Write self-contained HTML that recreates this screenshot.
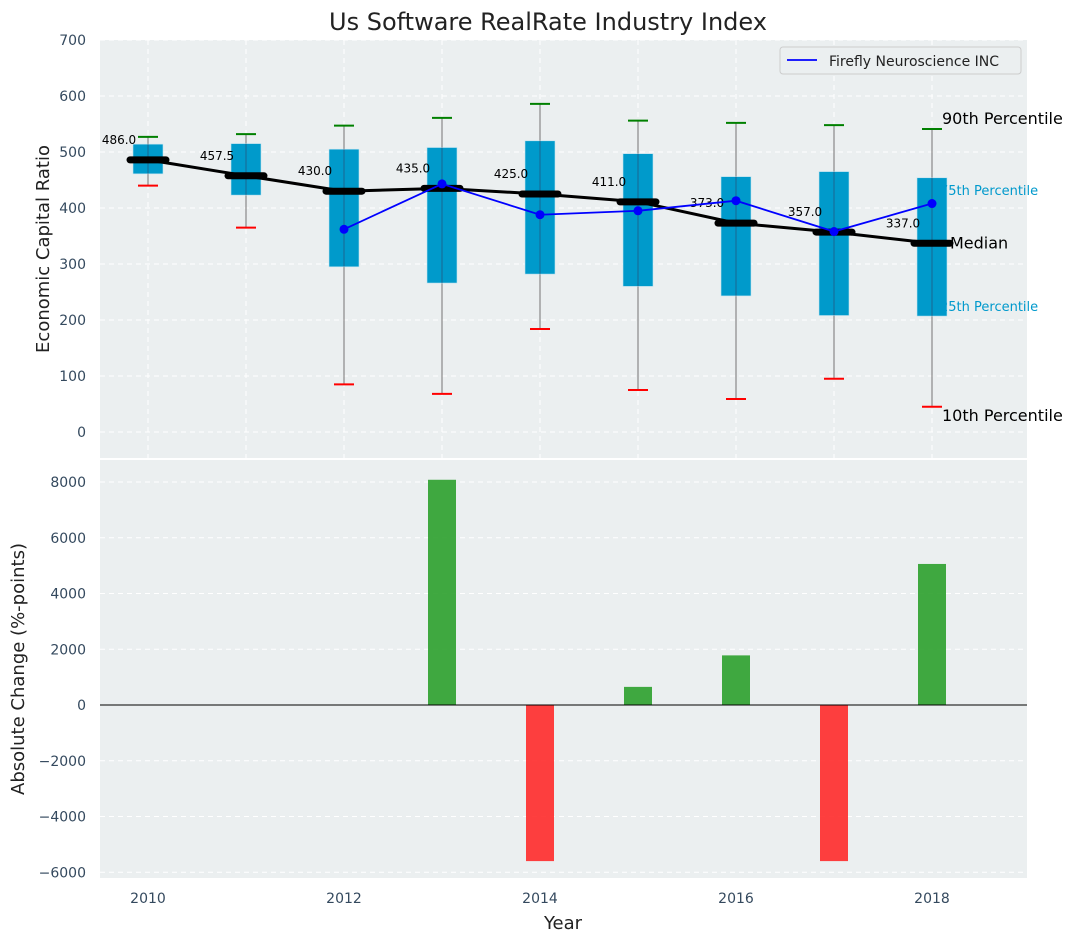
<!DOCTYPE html>
<html><head><meta charset="utf-8"><style>
html,body{margin:0;padding:0;background:#fff;}
svg{display:block;font-family:"DejaVu Sans","Liberation Sans",sans-serif;}
</style></head><body>
<svg id="chart" width="1077" height="942" viewBox="0 0 1077 942">
<text x="548" y="30" text-anchor="middle" font-size="24" fill="#222">Us Software RealRate Industry Index</text>
<g id="top"></g>
<g id="bot"></g>
</svg>
<script>
const years = [2010,2011,2012,2013,2014,2015,2016,2017,2018];
const p10 = [440,365,85,68,184,75,59,95,45];
const p25 = [461,423,295,266,282,260,243,208,207];
const med = [486,457.5,430,435,425,411,373,357,337];
const p75 = [514,515,505,508,520,497,456,465,454];
const p90 = [527,532,547,561,586,556,552,548,541];
const compYears = [2012,2013,2014,2015,2016,2017,2018];
const compVals = [362,443,388,395,413,358,408];
const changeYears = [2013,2014,2015,2016,2017,2018];
const changeVals = [8080,-5600,650,1780,-5600,5060];
const topTicks = [0,100,200,300,400,500,600,700];
const botTicks = [-6000,-4000,-2000,0,2000,4000,6000,8000];
const xTicks = [2010,2012,2014,2016,2018];

const NS='http://www.w3.org/2000/svg';
const L=100,R=1027;
const x=v=>148+(v-2010)*98;
const yT=v=>432-v*0.56;
const yB=v=>705-v*0.027875;
function mk(p,t,a){const e=document.createElementNS(NS,t);for(const k in a)e.setAttribute(k,a[k]);p.appendChild(e);return e;}
const topG=document.getElementById('top'), botG=document.getElementById('bot');
const svgEl=document.getElementById('chart');

let bg=mk(topG,'rect',{x:L,y:40,width:R-L,height:418,fill:'#ebeff0'});


let bg2=mk(botG,'rect',{x:L,y:460,width:R-L,height:418,fill:'#ebeff0'});



for(let yr=2010;yr<=2018;yr++){
  [[40,458],[460,878]].forEach(([a,b])=>{
    const g=mk(topG,'line',{x1:x(yr),x2:x(yr),y1:a,y2:b,stroke:'#fff','stroke-dasharray':'5,4','stroke-width':1});
    
    
  });
}
topTicks.forEach(t=>{
  const g=mk(topG,'line',{x1:L,x2:R,y1:yT(t),y2:yT(t),stroke:'#fff','stroke-dasharray':'5,4'});
  
  
  const tx=mk(topG,'text',{x:86,y:yT(t)+5,'text-anchor':'end','font-size':14,fill:'#34495e'});
  tx.textContent=t;
  
  
});
botTicks.forEach(t=>{
  const g=mk(botG,'line',{x1:L,x2:R,y1:yB(t),y2:yB(t),stroke:'#fff','stroke-dasharray':'5,4'});
  
  
  const tx=mk(botG,'text',{x:86,y:yB(t)+5,'text-anchor':'end','font-size':14,fill:'#34495e'});
  tx.textContent=(t<0?'\u2212'+(-t):t);
  
  
});
xTicks.forEach(t=>{
  const tx=mk(botG,'text',{x:x(t),y:903,'text-anchor':'middle','font-size':14,fill:'#34495e'});
  tx.textContent=t;
  
  
});

years.forEach((yr,i)=>{
  const cx=x(yr);
  const w=mk(topG,'line',{x1:cx,x2:cx,y1:yT(p10[i]),y2:yT(p90[i]),stroke:'#888','stroke-width':1.2});
  
  
  const b=mk(topG,'rect',{x:cx-15,y:yT(p75[i]),width:30,height:yT(p25[i])-yT(p75[i]),fill:'#009acb',stroke:'#bfe3f0','stroke-width':0.6});
  
  
  const w2=mk(topG,'line',{x1:cx,x2:cx,y1:yT(p75[i]),y2:yT(p25[i]),stroke:'#335','stroke-opacity':0.5,'stroke-width':1});
  
  
  const c1=mk(topG,'line',{x1:cx-10,x2:cx+10,y1:yT(p90[i]),y2:yT(p90[i]),stroke:'green','stroke-width':2});
  
  
  const c2=mk(topG,'line',{x1:cx-10,x2:cx+10,y1:yT(p10[i]),y2:yT(p10[i]),stroke:'red','stroke-width':2});
  
  
});
const ml=mk(topG,'polyline',{points:years.map((yr,i)=>x(yr)+','+yT(med[i])).join(' '),fill:'none',stroke:'#000','stroke-width':3});


years.forEach((yr,i)=>{
  const m=mk(topG,'line',{x1:x(yr)-18,x2:x(yr)+18,y1:yT(med[i]),y2:yT(med[i]),stroke:'#000','stroke-width':7,'stroke-linecap':'round'});
  
  
  const t=mk(topG,'text',{x:x(yr)-29,y:yT(med[i])-16,'text-anchor':'middle','font-size':12,fill:'#000'});
  t.textContent=med[i].toFixed(1);
  
  
});
const cl=mk(topG,'polyline',{points:compYears.map((yr,i)=>x(yr)+','+yT(compVals[i])).join(' '),fill:'none',stroke:'blue','stroke-width':1.8});


compYears.forEach((yr,i)=>{
  const c=mk(topG,'circle',{cx:x(yr),cy:yT(compVals[i]),r:4.5,fill:'blue'});
  
  
});
const li=years.length-1, lx=x(years[li]);
[[p90[li],'90th Percentile',16,'#000',10,-5],[p75[li],'75th Percentile',13,'#0099cc',8,17],[med[li],'Median',16,'#000',18,5],[p25[li],'25th Percentile',13,'#0099cc',8,-5],[p10[li],'10th Percentile',16,'#000',10,14]].forEach(a=>{
  const t=mk(topG,'text',{x:lx+a[4],y:yT(a[0])+a[5],'font-size':a[2],fill:a[3]});
  t.textContent=a[1];
  
  
});
const lg=mk(topG,'g',{});


mk(lg,'rect',{x:780,y:47,width:241,height:27,rx:3,fill:'#ebeff0',stroke:'#ccc'});
mk(lg,'line',{x1:787,x2:817,y1:60,y2:60,stroke:'blue','stroke-width':1.8});
const lt=mk(lg,'text',{x:829,y:66,'font-size':14,fill:'#222'});
lt.textContent='Firefly Neuroscience INC';



changeYears.forEach((yr,i)=>{
  const v=changeVals[i];
  const r=mk(botG,'rect',{x:x(yr)-14,y:Math.min(yB(v),yB(0)),width:28,height:Math.abs(yB(v)-yB(0)),fill:v>=0?'#2ca02c':'#ff2a2a','fill-opacity':0.9});
  
  
});
const zl=mk(botG,'line',{x1:L,x2:R,y1:yB(0),y2:yB(0),stroke:'#000','stroke-width':1});



const yt1=mk(svgEl,'text',{x:0,y:0,transform:'translate(49,249) rotate(-90)','text-anchor':'middle','font-size':18,fill:'#222'});
yt1.textContent='Economic Capital Ratio';


const yt2=mk(svgEl,'text',{x:0,y:0,transform:'translate(24,669) rotate(-90)','text-anchor':'middle','font-size':18,fill:'#222'});
yt2.textContent='Absolute Change (%-points)';


const xt=mk(svgEl,'text',{x:563,y:929,'text-anchor':'middle','font-size':18,fill:'#222'});
xt.textContent='Year';


</script>
</body></html>
